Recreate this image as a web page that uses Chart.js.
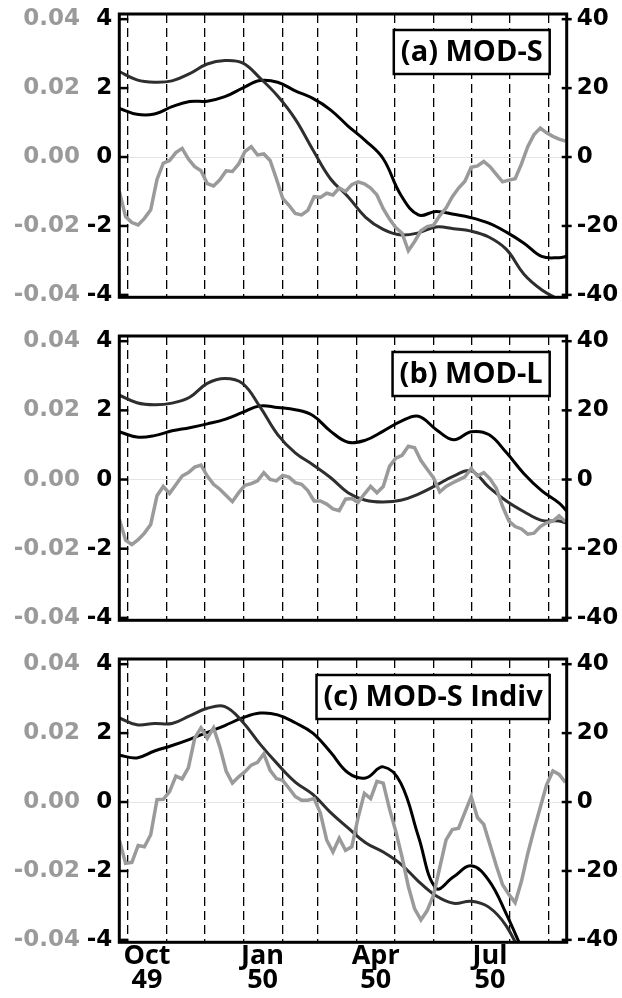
<!DOCTYPE html>
<html>
<head>
<meta charset="utf-8">
<script src="https://cdn.jsdelivr.net/npm/chart.js@4.4.0/dist/chart.umd.min.js"></script>
<style>
    html, body { margin: 0; padding: 0; background: #fff; }
    canvas { display: block; }
</style>
</head>
<body>
<canvas id="panelA" width="622" height="322"></canvas>
<canvas id="panelB" width="622" height="323"></canvas>
<canvas id="panelC" width="622" height="353"></canvas>
<script>
/**
 * Three stacked panels, time axis in days since 1 Oct 1949.
 * Gray line -> outer left axis, black line -> inner left axis,
 * dark line -> right axis.
 */

// Sample days for the gray (pentad) series
const pentadDays = [-7, -2, 3, 8, 13, 18, 23, 28, 33, 38, 43, 48, 53, 58, 63, 68, 73, 78,
    83, 88, 93, 98, 103, 108, 113, 118, 123, 128, 133, 138, 143, 148, 153, 158, 163, 168,
    173, 178, 183, 188, 193, 198, 203, 208, 213, 218, 223, 228, 233, 238, 243, 248, 253, 258,
    263, 268, 273, 278, 283, 288, 293, 298, 303, 308, 313, 318, 323, 328, 333, 338, 343, 348];

// Sample days for the two smooth series
const smoothDays = [-7, 7, 21, 35, 49, 63, 77, 91, 105, 119, 133, 147, 161, 175, 189, 203,
    217, 231, 245, 259, 273, 287, 301, 315, 329, 343, 349];

// Month starts (dashed lines) and month labels
const monthStartDays = [0, 31, 61, 92, 123, 151, 182, 212, 243, 273, 304, 335];
const monthLabelDays = [15, 107, 197, 288];
const monthLabels = [['Oct', '49'], ['Jan', '50'], ['Apr', '50'], ['Jul', '50']];

const grayTicks = [-0.04, -0.02, 0, 0.02, 0.04];
const blackTicks = [-4, -2, 0, 2, 4];
const rightTicks = [-40, -20, 0, 20, 40];

const panelTitles = ['(a) MOD-S', '(b) MOD-L', '(c) MOD-S Indiv'];

// (a) MOD-S
const grayA = [-0.0100, -0.0173, -0.0190, -0.0197, -0.0178, -0.0153, -0.0065, -0.0018, -0.0010,
    0.0013, 0.0025, -0.0006, -0.0028, -0.0040, -0.0077, -0.0084, -0.0066, -0.0040, -0.0042,
    -0.0020, 0.0016, 0.0030, 0.0006, 0.0009, -0.0010, -0.0063, -0.0120, -0.0140, -0.0164,
    -0.0168, -0.0155, -0.0115, -0.0117, -0.0105, -0.0110, -0.0090,
    -0.0100, -0.0080, -0.0072, -0.0078, -0.0090, -0.0110, -0.0150, -0.0180, -0.0205, -0.0221,
    -0.0272, -0.0245, -0.0214, -0.0202, -0.0198, -0.0170, -0.0148, -0.0115, -0.0090, -0.0070,
    -0.0030, -0.0026, -0.0013, -0.0028, -0.0050, -0.0072, -0.0067, -0.0063, -0.0020, 0.0030,
    0.0065, 0.0084, 0.0070, 0.0060, 0.0052, 0.0046];
const blackA = [1.41, 1.24, 1.25, 1.46, 1.61, 1.62, 1.75, 2.0, 2.22, 2.17, 1.92, 1.7, 1.37, 0.9,
    0.47, -0.05, -1.1, -1.68, -1.58, -1.66, -1.76, -1.92, -2.18, -2.5, -2.88, -2.92, -2.88];
const darkA = [24.8, 22.4, 21.7, 22.1, 24.2, 27.0, 28.0, 27.3, 22.9, 17.7, 11.0, 2.1, -6.3, -11.5,
    -17.5, -21.0, -22.6, -22.0, -20.3, -20.8, -21.5, -23.2, -26.8, -34.0, -38.5, -41.5, -43.0];

// (b) MOD-L
const grayB = [-0.0115, -0.0175, -0.0188, -0.0174, -0.0155, -0.0130, -0.0047, -0.0020, -0.0040,
    -0.0015, 0.0010, 0.0020, 0.0036, 0.0042, 0.0010, -0.0014, -0.0028, -0.0046, -0.0064,
    -0.0038, -0.0017, -0.0012, -0.0004, 0.0020, 0.0000, -0.0004, 0.0012, 0.0007, -0.0009,
    -0.0014, -0.0032, -0.0062, -0.0062, -0.0071, -0.0085, -0.0090,
    -0.0057, -0.0055, -0.0066, -0.0042, -0.0020, -0.0038, -0.0020, 0.0038, 0.0062, 0.0070,
    0.0096, 0.0092, 0.0055, 0.0030, 0.0005, -0.0036, -0.0020, -0.0010, -0.0001, 0.0008,
    0.0032, 0.0010, 0.0020, 0.0002, -0.0025, -0.0078, -0.0120, -0.0136, -0.0143, -0.0158,
    -0.0155, -0.0136, -0.0125, -0.0120, -0.0105, -0.0122];
const blackB = [1.38, 1.23, 1.27, 1.41, 1.5, 1.61, 1.74, 1.94, 2.13, 2.08, 2.02, 1.85, 1.4, 1.08,
    1.14, 1.4, 1.68, 1.83, 1.45, 1.15, 1.38, 1.3, 0.78, 0.17, -0.32, -0.68, -0.91];
const darkB = [24.4, 22.2, 21.6, 22.1, 23.8, 27.8, 29.2, 27.8, 21.0, 13.0, 7.7, 4.3, 0.6, -3.8,
    -6.0, -6.5, -6.0, -4.2, -1.7, 1.0, 2.5, -2.2, -6.2, -9.3, -11.8, -12.0, -12.6];

// (c) MOD-S Indiv
const grayC = [-0.0110, -0.0178, -0.0175, -0.0126, -0.0130, -0.0095, 0.0007, 0.0008, 0.0030,
    0.0075, 0.0067, 0.0100, 0.0185, 0.0215, 0.0185, 0.0215, 0.0160, 0.0090, 0.0055, 0.0073,
    0.0088, 0.0107, 0.0115, 0.0140, 0.0092, 0.0068, 0.0063, 0.0040, 0.0016, 0.0005, 0.0005,
    0.0010, -0.0032, -0.0110, -0.0145, -0.0105,
    -0.0140, -0.0130, -0.0045, 0.0025, 0.0010, 0.0060, 0.0055, -0.0020, -0.0085, -0.0160,
    -0.0245, -0.0310, -0.0342, -0.0315, -0.0270, -0.0190, -0.0110, -0.0080, -0.0076, -0.0030,
    0.0015, -0.0045, -0.0065, -0.0125, -0.0185, -0.0240, -0.0268, -0.0292, -0.0230, -0.0150,
    -0.0080, -0.0015, 0.0050, 0.0090, 0.0080, 0.0057];
const blackC = [1.36, 1.28, 1.48, 1.64, 1.82, 2.02, 2.22, 2.44, 2.58, 2.53, 2.3, 2.0, 1.45, 0.85,
    0.7, 1.02, 0.55, -1.0, -2.5, -2.17, -1.85, -2.27, -3.25, -4.4, null, null, null];
const darkC = [24.4, 22.4, 22.8, 22.8, 25.0, 27.2, 27.7, 23.3, 16.8, 11.0, 5.8, 2.2, -3.0, -7.5,
    -11.8, -14.5, -18.0, -23.0, -27.2, -29.4, -28.8, -30.5, -36.0, -46.0, null, null, null];

const X_MIN = -7;
const X_MAX = 349;
const Y_MIN = -4.07;
const Y_MAX = 4.15;

const TICK_FONT = { family: 'DejaVu Sans', weight: 'bold', size: 23 };
const MONTH_FONT = { family: 'Open Sans', weight: 'bold', size: 27, lineHeight: '24px' };
const GRAY = '#9a9a9a';

function toPoints(days, values) {
    return days.map((d, i) => ({ x: d, y: values[i] }));
}

// keep the plot area where the layout padding puts it
function noLabelPadding(s) {
    s.paddingTop = 0;
    s.paddingBottom = 0;
}

// Frame, inward tick marks and the boxed panel label
const panelDecor = {
    id: 'panelDecor',
    afterDatasetsDraw(chart, args, opts) {
        const { ctx, chartArea: a, scales } = chart;
        ctx.save();
        ctx.strokeStyle = '#000';
        ctx.lineWidth = 2.5;
        blackTicks.forEach(v => {
            const y = scales.yBlack.getPixelForValue(v);
            ctx.beginPath();
            ctx.moveTo(a.left, y);
            ctx.lineTo(a.left + 9, y);
            ctx.stroke();
        });
        rightTicks.forEach(v => {
            const y = scales.yRight.getPixelForValue(v);
            ctx.beginPath();
            ctx.moveTo(a.right - 5, y);
            ctx.lineTo(a.right + 5, y);
            ctx.stroke();
        });
        ctx.lineWidth = 3;
        ctx.strokeRect(a.left, a.top, a.right - a.left, a.bottom - a.top);

        ctx.font = 'bold 29px "Open Sans"';
        const pad = 7;
        const w = ctx.measureText(opts.title).width + 2 * pad;
        const h = 44;
        const right = a.right - 17;
        const top = a.top + 16;
        ctx.fillStyle = '#fff';
        ctx.fillRect(right - w, top, w, h);
        ctx.lineWidth = 2.5;
        ctx.strokeRect(right - w, top, w, h);
        ctx.fillStyle = '#000';
        ctx.textAlign = 'left';
        ctx.textBaseline = 'middle';
        ctx.fillText(opts.title, right - w + pad, top + h / 2 + 1);
        ctx.restore();
    }
};

function createPanel(canvasId, title, gray, black, dark, showMonths) {
    const ctx = document.getElementById(canvasId).getContext('2d');

    const scales = {
        x: {
            type: 'linear',
            min: X_MIN,
            max: X_MAX,
            afterBuildTicks: s => { s.ticks = monthStartDays.map(v => ({ value: v })); },
            ticks: { display: false },
            grid: { color: '#000', lineWidth: 1.3, drawTicks: false },
            border: { display: false, dash: [9, 5] },
            afterFit: s => { s.height = 0; s.paddingLeft = 0; s.paddingRight = 0; }
        },
        yGray: {
            type: 'linear',
            position: 'left',
            weight: 2,
            min: Y_MIN / 100,
            max: Y_MAX / 100,
            afterBuildTicks: s => { s.ticks = grayTicks.map(v => ({ value: v })); },
            ticks: { color: GRAY, font: TICK_FONT, padding: 4, callback: v => v.toFixed(2) },
            grid: { display: false, drawTicks: false },
            border: { display: false },
            afterFit: s => { s.width = 84; noLabelPadding(s); }
        },
        yBlack: {
            type: 'linear',
            position: 'left',
            weight: 1,
            min: Y_MIN,
            max: Y_MAX,
            afterBuildTicks: s => { s.ticks = blackTicks.map(v => ({ value: v })); },
            ticks: { color: '#000', font: TICK_FONT, padding: 7, callback: v => String(v) },
            grid: {
                drawTicks: false,
                lineWidth: 1,
                color: c => (c.tick && c.tick.value === 0 ? '#e4e4e4' : 'rgba(0,0,0,0)')
            },
            border: { display: false },
            afterFit: s => { s.width = 35.3; noLabelPadding(s); }
        },
        yRight: {
            type: 'linear',
            position: 'right',
            min: Y_MIN * 10,
            max: Y_MAX * 10,
            afterBuildTicks: s => { s.ticks = rightTicks.map(v => ({ value: v })); },
            ticks: { color: '#000', font: TICK_FONT, padding: 10, callback: v => String(v) },
            grid: { display: false, drawTicks: false },
            border: { display: false },
            afterFit: s => { s.width = 55.3; noLabelPadding(s); }
        }
    };

    if (showMonths) {
        scales.xMonths = {
            type: 'linear',
            position: 'bottom',
            min: X_MIN,
            max: X_MAX,
            afterBuildTicks: s => { s.ticks = monthLabelDays.map(v => ({ value: v })); },
            ticks: {
                color: '#000',
                font: MONTH_FONT,
                padding: 2,
                maxRotation: 0,
                autoSkip: false,
                callback: (v, i) => monthLabels[i]
            },
            grid: { display: false, drawTicks: false },
            border: { display: false },
            afterFit: s => { s.height = 55.7; s.paddingLeft = 0; s.paddingRight = 0; }
        };
    }

    return new Chart(ctx, {
        type: 'line',
        data: {
            datasets: [
                {
                    data: toPoints(pentadDays, gray),
                    yAxisID: 'yGray',
                    borderColor: GRAY,
                    borderWidth: 3.5,
                    pointRadius: 0,
                    tension: 0
                },
                {
                    data: toPoints(smoothDays, dark),
                    yAxisID: 'yRight',
                    borderColor: '#2e2e2e',
                    borderWidth: 3,
                    pointRadius: 0,
                    tension: 0.4
                },
                {
                    data: toPoints(smoothDays, black),
                    yAxisID: 'yBlack',
                    borderColor: '#000',
                    borderWidth: 3,
                    pointRadius: 0,
                    tension: 0.4
                }
            ]
        },
        options: {
            responsive: false,
            animation: false,
            events: [],
            layout: { padding: { left: 0, right: 0, top: 14, bottom: showMonths ? 0 : 24.7 } },
            scales: scales,
            plugins: {
                legend: { display: false },
                tooltip: { enabled: false },
                panelDecor: { title: title }
            }
        },
        plugins: [panelDecor]
    });
}

createPanel('panelA', panelTitles[0], grayA, blackA, darkA, false);
createPanel('panelB', panelTitles[1], grayB, blackB, darkB, false);
createPanel('panelC', panelTitles[2], grayC, blackC, darkC, true);
</script>
</body>
</html>
